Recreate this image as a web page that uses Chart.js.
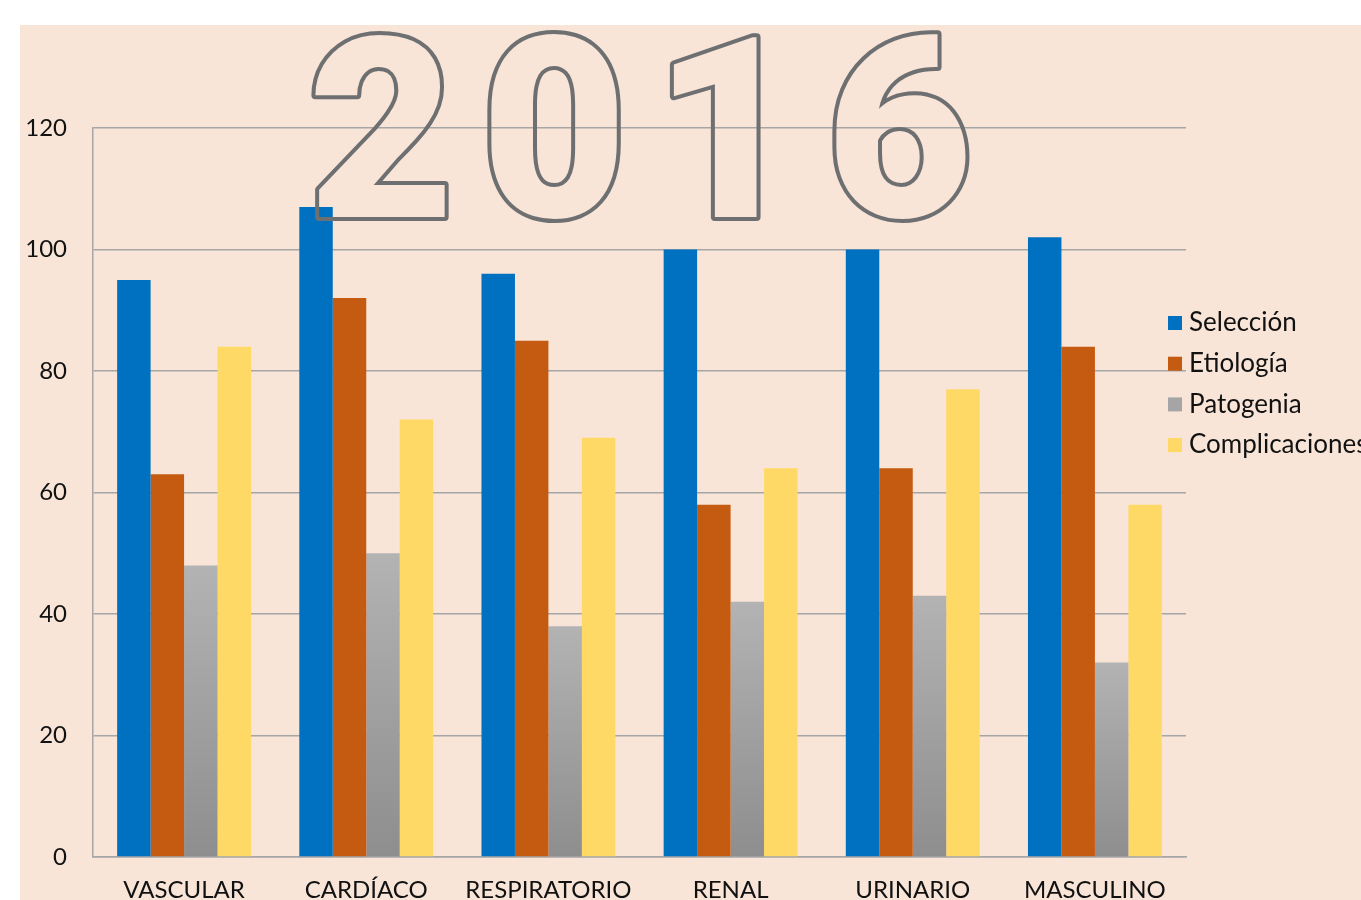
<!DOCTYPE html>
<html>
<head>
<meta charset="utf-8">
<script src="https://cdn.jsdelivr.net/npm/chart.js@4.4.0/dist/chart.umd.min.js"></script>
<style>
  html, body { margin: 0; padding: 0; background: #ffffff; }
  #wrap { width: 1361px; height: 900px; position: relative; }
</style>
</head>
<body>
<div id="wrap"><canvas id="chartAreas"></canvas></div>
<script>
// Data
var categorias = ['VASCULAR', 'CARDÍACO', 'RESPIRATORIO', 'RENAL', 'URINARIO', 'MASCULINO'];
var seleccion = [95, 107, 96, 100, 100, 102];
var etiologia = [63, 92, 85, 58, 64, 84];
var patogenia = [48, 50, 38, 42, 43, 32];
var complicaciones = [84, 72, 69, 64, 77, 58];
var series = ['Selección', 'Etiología', 'Patogenia', 'Complicaciones'];
var tituloAnio = '2016';

var fondo = '#F8E5D8';
var fuente = 'Lato, "Open Sans", sans-serif';

// degradado gris para Patogenia
function grisDegradado(context) {
    var chart = context.chart;
    if (!chart.chartArea || context.parsed === undefined) return '#A6A6A6';
    var y = chart.scales.y;
    var top = y.getPixelForValue(context.parsed.y);
    var bottom = y.getPixelForValue(0);
    if (!isFinite(top) || !isFinite(bottom) || top === bottom) return '#A6A6A6';
    var g = chart.ctx.createLinearGradient(0, top, 0, bottom);
    g.addColorStop(0, '#B3B3B3');
    g.addColorStop(1, '#8E8E8E');
    return g;
}

// titulo hueco: trazo grueso y luego se borra el interior de las cifras
function dibujarTitulo(chart) {
    var off = document.createElement('canvas');
    off.width = chart.width;
    off.height = chart.height;
    var c = off.getContext('2d');
    c.font = '900 253px Roboto, "Liberation Sans", sans-serif';
    c.letterSpacing = '26px';
    c.textBaseline = 'alphabetic';
    c.lineJoin = 'round';
    c.lineWidth = 8;
    c.strokeStyle = '#6E6F70';
    c.strokeText(tituloAnio, 308, 217);
    c.globalCompositeOperation = 'destination-out';
    c.fillStyle = '#000';
    c.fillText(tituloAnio, 308, 217);
    chart.ctx.drawImage(off, 0, 0);
}

// fondo, leyenda y titulo dibujados a mano
var decoracion = {
    id: 'decoracion',
    beforeDraw: function(chart) {
        var ctx = chart.ctx;
        ctx.save();
        ctx.fillStyle = '#ffffff';
        ctx.fillRect(0, 0, chart.width, chart.height);
        ctx.fillStyle = fondo;
        ctx.fillRect(20, 25, chart.width - 20, chart.height - 25);
        ctx.restore();
    },
    afterDraw: function(chart) {
        var ctx = chart.ctx;
        ctx.save();
        // leyenda
        var x0 = chart.chartArea.right - 18;
        var y0 = 323;
        ctx.font = '26px ' + fuente;
        ctx.textBaseline = 'middle';
        chart.data.datasets.forEach(function(ds, i) {
            var y = y0 + i * 40.7;
            ctx.fillStyle = ds.legendColor;
            ctx.fillRect(x0, y - 7, 14, 14);
            ctx.fillStyle = '#111111';
            ctx.fillText(ds.label, x0 + 21, y);
        });
        ctx.restore();
        dibujarTitulo(chart);
    }
};

var data = {
    labels: categorias,
    datasets: [
        { label: series[0], data: seleccion, backgroundColor: '#0070C0', legendColor: '#0070C0' },
        { label: series[1], data: etiologia, backgroundColor: '#C55A11', legendColor: '#C55A11' },
        { label: series[2], data: patogenia, backgroundColor: grisDegradado, legendColor: '#A5A5A5' },
        { label: series[3], data: complicaciones, backgroundColor: '#FFD966', legendColor: '#FFD966' }
    ]
};

var options = {
    responsive: false,
    animation: false,
    layout: { padding: { left: 0, right: 175, top: 128, bottom: 0 } },
    datasets: { bar: { categoryPercentage: 0.735, barPercentage: 1.0 } },
    plugins: {
        legend: { display: false },
        tooltip: { enabled: false }
    },
    scales: {
        x: {
            grid: { display: false },
            border: { display: true, color: '#A6A6A6', width: 1.5 },
            ticks: { color: '#111111', font: { family: fuente, size: 24 }, padding: 11, maxRotation: 0 },
            afterFit: function(s) { s.height = 43; }
        },
        y: {
            min: 0,
            max: 120,
            ticks: { stepSize: 20, color: '#111111', font: { family: fuente, size: 24 }, padding: 26 },
            grid: { color: '#A6A6A6', lineWidth: 1.5, drawTicks: false },
            border: { display: true, color: '#A6A6A6', width: 1.5 },
            afterFit: function(s) { s.width = 93; }
        }
    }
};

var canvas = document.getElementById('chartAreas');
canvas.width = 1361;
canvas.height = 900;
var ctx = canvas.getContext('2d');
var miGrafico = new Chart(ctx, {
    type: 'bar',
    data: data,
    options: options,
    plugins: [decoracion]
});
</script>
</body>
</html>
